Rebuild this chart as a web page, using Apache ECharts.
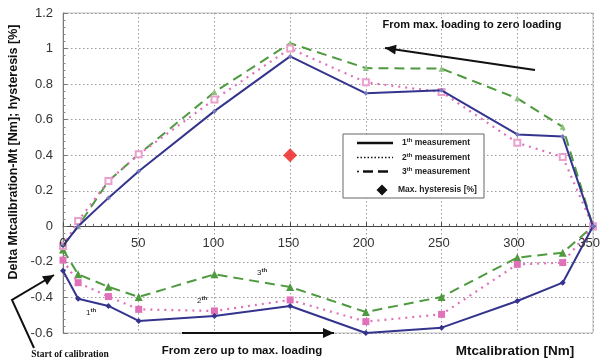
<!DOCTYPE html>
<html>
<head>
<meta charset="utf-8">
<script src="https://cdn.jsdelivr.net/npm/echarts@6/dist/echarts.min.js"></script>
<style>
  html, body { margin: 0; padding: 0; background: #fff; }
  #chart { width: 603px; height: 363px; }
</style>
</head>
<body>
<div id="chart"></div>
<script>
// torque steps [Nm]
const torque = [0, 10, 30, 50, 100, 150, 200, 250, 300, 330, 350];
// x tick labels
const xTicks = [0, 50, 100, 150, 200, 250, 300, 350];

// from zero up to max. loading (lower loop)
const load1 = [-0.25, -0.407, -0.448, -0.532, -0.504, -0.448, -0.6, -0.57, -0.42, -0.317, 0];
const load2 = [-0.19, -0.317, -0.395, -0.467, -0.476, -0.414, -0.536, -0.495, -0.214, -0.204, 0];
const load3 = [-0.13, -0.27, -0.34, -0.397, -0.27, -0.341, -0.482, -0.397, -0.176, -0.148, 0];

// from max. loading back to zero (upper loop)
const unload1 = [-0.11, 0.0, 0.16, 0.31, 0.648, 0.956, 0.748, 0.765, 0.517, 0.506, 0];
const unload2 = [-0.11, 0.03, 0.255, 0.405, 0.714, 1.0, 0.81, 0.755, 0.47, 0.39, 0];
const unload3 = [-0.11, 0.0, 0.255, 0.405, 0.755, 1.03, 0.89, 0.887, 0.72, 0.56, 0];

// max. hysteresis point
const maxHyst = [[150, 0.4]];

const BLUE = "#34348f";
const PINK = "#e070b8";
const GREEN = "#4e9a3e";

const pairs = arr => torque.map((x, i) => [x, arr[i]]);

function arrowHead(tip, from, len, half) {
  const dx = tip[0] - from[0], dy = tip[1] - from[1];
  const d = Math.sqrt(dx * dx + dy * dy);
  const ux = dx / d, uy = dy / d;
  const bx = tip[0] - ux * len, by = tip[1] - uy * len;
  return [tip, [bx - uy * half, by + ux * half], [bx + uy * half, by - ux * half]];
}

function arrow(from, tip, via) {
  const pts = via ? [from, via, tip] : [from, tip];
  const prev = via || from;
  return [
    { type: "polyline", shape: { points: pts }, style: { stroke: "#111", lineWidth: 2, fill: null }, z: 100 },
    { type: "polygon", shape: { points: arrowHead(tip, prev, 11, 5) }, style: { fill: "#111" }, z: 100 }
  ];
}

const supRich = {
  s: { fontSize: 6, fontWeight: "bold", fontFamily: "Liberation Sans", verticalAlign: "top", padding: [0, 0, 5, 0], fill: "#222" }
};

function legendText(x, y, txt) {
  return {
    type: "text", x: x, y: y, z: 101,
    style: {
      text: txt, fontSize: 8.5, fontWeight: "bold", fontFamily: "Liberation Sans",
      fill: "#222", verticalAlign: "middle", rich: supRich
    }
  };
}

const chart = echarts.init(document.getElementById("chart"));

const graphics = [
  // y axis title
  {
    type: "text", x: 14, y: 152, rotation: Math.PI / 2,
    style: {
      text: "Delta Mtcalibration-Mt [Nm]; hysteresis [%]", fontSize: 12.5, fontWeight: "bold",
      fontFamily: "Liberation Sans", fill: "#111", align: "center", verticalAlign: "middle"
    }
  },
  // x axis title
  {
    type: "text", x: 515, y: 351,
    style: {
      text: "Mtcalibration [Nm]", fontSize: 13.5, fontWeight: "bold",
      fontFamily: "Liberation Sans", fill: "#111", align: "center", verticalAlign: "middle"
    }
  },
  {
    type: "text", x: 242, y: 351,
    style: {
      text: "From zero up to max. loading", fontSize: 11.5, fontWeight: "bold",
      fontFamily: "Liberation Sans", fill: "#111", align: "center", verticalAlign: "middle"
    }
  },
  {
    type: "text", x: 472, y: 25,
    style: {
      text: "From max. loading to zero loading", fontSize: 11, fontWeight: "bold",
      fontFamily: "Liberation Sans", fill: "#111", align: "center", verticalAlign: "middle"
    }
  },
  {
    type: "text", x: 70, y: 355,
    style: {
      text: "Start of calibration", fontSize: 9.5, fontWeight: "bold",
      fontFamily: "Liberation Serif", fill: "#111", align: "center", verticalAlign: "middle"
    }
  },
  // curve labels
  { type: "text", x: 86, y: 313, z: 101, style: { text: "1{s|th}", fontSize: 8, fontFamily: "Liberation Sans", fill: "#222", verticalAlign: "middle", rich: supRich } },
  { type: "text", x: 197, y: 301, z: 101, style: { text: "2{s|th}", fontSize: 8, fontFamily: "Liberation Sans", fill: "#222", verticalAlign: "middle", rich: supRich } },
  { type: "text", x: 257, y: 273, z: 101, style: { text: "3{s|th}", fontSize: 8, fontFamily: "Liberation Sans", fill: "#222", verticalAlign: "middle", rich: supRich } },
  // legend box
  { type: "rect", shape: { x: 343, y: 134, width: 141, height: 64 }, style: { fill: "#fff", stroke: "#666", lineWidth: 1 }, z: 100 },
  { type: "line", shape: { x1: 357, y1: 143, x2: 393, y2: 143 }, style: { stroke: "#111", lineWidth: 2.5 }, z: 101 },
  { type: "line", shape: { x1: 357, y1: 157.5, x2: 393, y2: 157.5 }, style: { stroke: "#111", lineWidth: 1.5, lineDash: [1.5, 2] }, z: 101 },
  { type: "circle", shape: { cx: 358, cy: 171.5, r: 1 }, style: { fill: "#111" }, z: 101 },
  { type: "line", shape: { x1: 363, y1: 171.5, x2: 393, y2: 171.5 }, style: { stroke: "#111", lineWidth: 2.5, lineDash: [10, 5] }, z: 101 },
  { type: "polygon", shape: { points: [[382, 184.5], [387.5, 190], [382, 195.5], [376.5, 190]] }, style: { fill: "#111" }, z: 101 },
  legendText(402, 143, "1{s|th} measurement"),
  legendText(402, 157.5, "2{s|th} measurement"),
  legendText(402, 171.5, "3{s|th} measurement"),
  legendText(398, 190, "Max. hysteresis [%]")
]
  .concat(arrow([535, 70], [385, 48]))
  .concat(arrow([182, 333], [334, 333]))
  .concat(arrow([34, 348], [54, 275], [12, 300]));

chart.setOption({
  backgroundColor: "#fff",
  animation: false,
  grid: [
    { left: 63, right: 10, top: 13, bottom: 30, show: true, borderColor: "#bbb", borderWidth: 1 },
    // upper part of the plot (y >= 0): only used to place x tick labels under the zero line
    { left: 63, right: 10, top: 13, bottom: 136, show: false }
  ],
  xAxis: [
    {
      type: "value", gridIndex: 0,
      min: 0, max: 350, interval: 50,
      axisLine: { show: true, onZero: true, lineStyle: { color: "#444", width: 1 } },
      axisTick: { show: true, inside: true, length: 4, lineStyle: { color: "#444" } },
      minorTick: { show: true, splitNumber: 10, length: 2.5, lineStyle: { color: "#666" } },
      axisLabel: { show: false },
      splitLine: { show: true, lineStyle: { color: "#999", type: [1.5, 2.5] } }
    },
    {
      type: "value", gridIndex: 1, z: 20,
      min: 0, max: 350, interval: 50,
      axisLine: { show: false, onZero: false },
      axisTick: { show: false },
      splitLine: { show: false },
      axisLabel: {
        margin: 10, fontSize: 13, color: "#333", fontFamily: "Liberation Sans",
        customValues: xTicks, showMaxLabel: true, showMinLabel: true, hideOverlap: false
      }
    }
  ],
  yAxis: [
    {
      type: "value", gridIndex: 0,
      min: -0.6, max: 1.2, interval: 0.2,
      axisLine: { show: true, onZero: false, lineStyle: { color: "#777", width: 1 } },
      axisTick: { show: true, inside: true, length: 4, lineStyle: { color: "#777" } },
      minorTick: { show: true, splitNumber: 5, length: 2.5, lineStyle: { color: "#888" } },
      axisLabel: {
        margin: 10, fontSize: 13, color: "#333", fontFamily: "Liberation Sans",
        formatter: v => String(+v.toFixed(1))
      },
      splitLine: { show: true, lineStyle: { color: "#999", type: [1.5, 2.5] } }
    },
    {
      type: "value", gridIndex: 1, min: 0, max: 1.2, show: false
    }
  ],
  series: [
    {
      name: "1th loading", type: "line", data: pairs(load1),
      symbol: "diamond", symbolSize: 6, showAllSymbol: true,
      lineStyle: { color: BLUE, width: 2 }, itemStyle: { color: BLUE }, z: 5
    },
    {
      name: "2th loading", type: "line", data: pairs(load2),
      symbol: "rect", symbolSize: 7,
      lineStyle: { color: PINK, width: 2.2, type: [2, 5] }, itemStyle: { color: PINK }, z: 4
    },
    {
      name: "3th loading", type: "line", data: pairs(load3),
      symbol: "triangle", symbolSize: 8,
      lineStyle: { color: GREEN, width: 2, type: [10, 6] }, itemStyle: { color: GREEN }, z: 3
    },
    {
      name: "1th unloading", type: "line", data: pairs(unload1),
      symbol: "diamond", symbolSize: 5,
      lineStyle: { color: BLUE, width: 2 }, itemStyle: { color: "#7777bb" }, z: 5
    },
    {
      name: "2th unloading", type: "line", data: pairs(unload2),
      symbol: "emptyRect", symbolSize: 6,
      lineStyle: { color: PINK, width: 2.2, type: [2, 5] }, itemStyle: { color: "#eaa0cc", borderWidth: 1 }, z: 4
    },
    {
      name: "3th unloading", type: "line", data: pairs(unload3),
      symbol: "triangle", symbolSize: 6,
      lineStyle: { color: GREEN, width: 2, type: [10, 6] }, itemStyle: { color: "#8fc283" }, z: 3
    },
    {
      name: "Max. hysteresis [%]", type: "scatter", data: maxHyst,
      symbol: "diamond", symbolSize: 14, itemStyle: { color: "#ee1a1a" }, z: 6
    }
  ],
  graphic: graphics
});
</script>
</body>
</html>
